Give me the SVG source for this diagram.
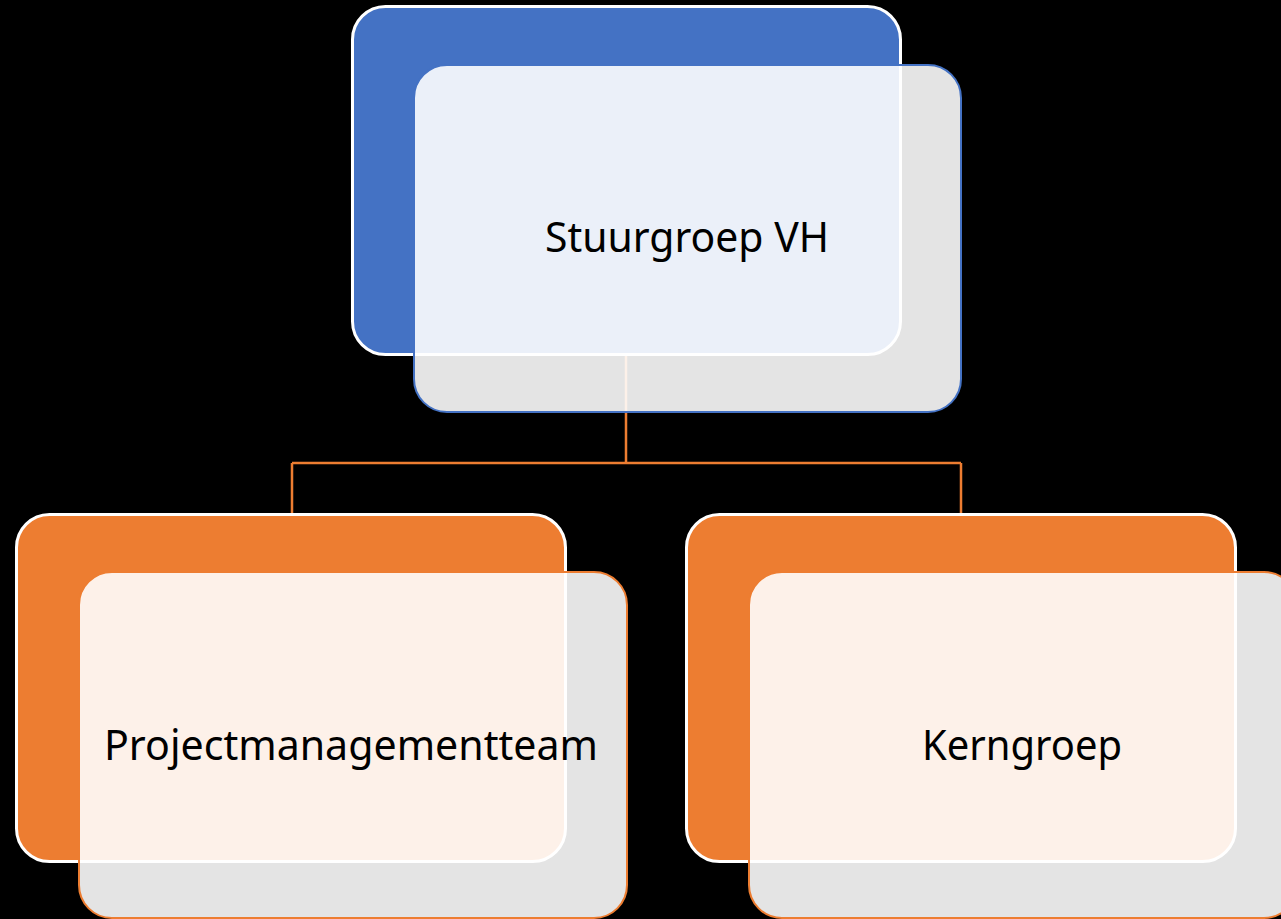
<svg xmlns="http://www.w3.org/2000/svg" width="1281" height="919" viewBox="0 0 1281 919">
<style>
.back{stroke:#FFFFFF;stroke-width:3}
.blue{fill:#4472C4}
.orange{fill:#ED7D31}
.front{fill:#FFFFFF;fill-opacity:0.894;stroke-width:2}
.fb{stroke:#4472C4}
.fo{stroke:#ED7D31}
.lbl{font-family:"Noto Sans","Open Sans","Liberation Sans",sans-serif;font-size:42px;fill:#000000;text-anchor:middle}
.conn{fill:none;stroke:#ED7D31;stroke-width:2.5}
</style>
<rect x="0" y="0" width="1281" height="919" fill="#000000"/>
<g id="connectors">
<path class="conn" d="M626,355 V463 M292,463 H961 M292,463 V515 M961,463 V515"/>
</g>
<g id="node-stuurgroep">
<rect class="back blue" x="352.5" y="6.5" width="548" height="348" rx="33"/>
<rect class="front fb" x="414" y="65" width="547" height="347" rx="33"/>
<text class="lbl" x="687" y="252" textLength="284" lengthAdjust="spacingAndGlyphs">Stuurgroep VH</text>
</g>
<g id="node-projectmanagementteam">
<rect class="back orange" x="16.5" y="514.5" width="549" height="347" rx="33"/>
<rect class="front fo" x="79" y="572" width="548" height="346" rx="33"/>
<text class="lbl" x="351" y="760" textLength="494" lengthAdjust="spacingAndGlyphs">Projectmanagementteam</text>
</g>
<g id="node-kerngroep">
<rect class="back orange" x="686.5" y="514.5" width="549" height="347" rx="33"/>
<rect class="front fo" x="749" y="572" width="548" height="346" rx="33"/>
<text class="lbl" x="1022" y="760" textLength="200" lengthAdjust="spacingAndGlyphs">Kerngroep</text>
</g>
</svg>
